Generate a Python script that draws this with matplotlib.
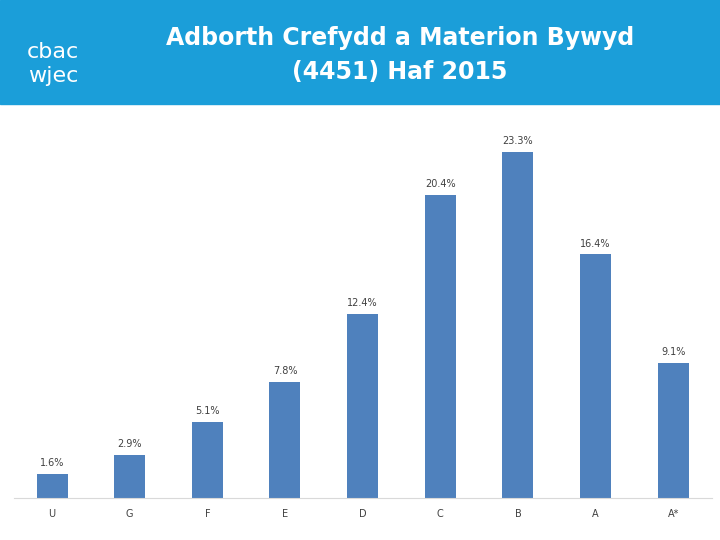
import matplotlib
matplotlib.use("Agg")
import matplotlib.pyplot as plt
from matplotlib.patches import Rectangle

grades = ["U", "G", "F", "E", "D", "C", "B", "A", "A*"]
values = [1.6, 2.9, 5.1, 7.8, 12.4, 20.4, 23.3, 16.4, 9.1]

fig = plt.figure(figsize=(7.2, 5.4), dpi=100)
fig.patches.append(Rectangle((0, 1 - 104/540), 1, 104/540, transform=fig.transFigure,
                             color="#1b9ed9", zorder=0))
for txt, yy in [("Adborth Crefydd a Materion Bywyd", 38), ("(4451) Haf 2015", 72)]:
    fig.text(400/720, 1 - yy/540, txt, color="white", fontsize=17, fontweight="bold",
             ha="center", va="center", family="DejaVu Sans")
fig.text(53/720, 1 - 52/540, "cbac", color="white", fontsize=16, ha="center", va="center")
fig.text(53/720, 1 - 76/540, "wjec", color="white", fontsize=16, ha="center", va="center")

ax = fig.add_axes([14/720, 42/540, 698/720, 368/540])
x = range(len(grades))
ax.bar(x, values, width=0.4, color="#4f81bd")
for xi, v in zip(x, values):
    ax.text(xi, v + 0.4, f"{v}%", ha="center", va="bottom", fontsize=7, color="#404040")
ax.set_xlim(-0.49, 8.5)
ax.set_ylim(0, 24.78)
ax.set_xticks(list(x))
ax.set_xticklabels(grades, fontsize=7, color="#404040")
ax.tick_params(length=0, pad=8)
ax.set_yticks([])
for s in ["top", "right", "left"]:
    ax.spines[s].set_visible(False)
ax.spines["bottom"].set_color("#d9d9d9")
fig.savefig("out.png", dpi=100)
